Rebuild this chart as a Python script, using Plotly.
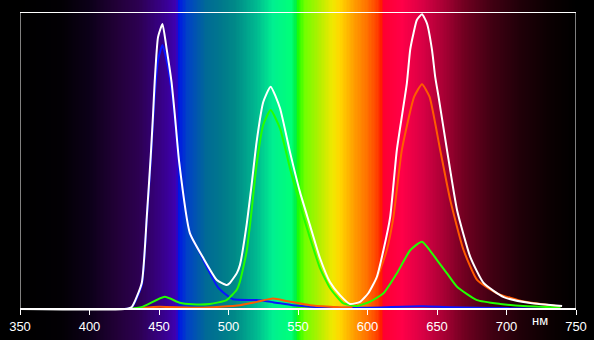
import plotly.graph_objects as go

# ---- data (wavelength nm, relative intensity 0..1) ----
white_wl = [350, 425.3, 430.4, 437.6, 441.2, 444.1, 445.7, 446.9, 449.3, 452.5, 455.4, 459.0, 461.4, 464.5,
            472.2, 481.5, 491.6, 498.8, 501.0, 506.0, 508.2, 513.0, 516.6, 520.2, 525.0, 530.3, 537.0,
            544.2, 551.4, 558.6, 565.8, 573.0, 580.2, 587.4, 594.6, 600.7, 606.7, 611.5, 616.3, 621.1,
            628.3, 630.7, 633.1, 635.5, 639.2, 642.8, 646.4, 648.7, 651.1, 657.2, 664.4, 674.0, 683.5,
            698.0, 717.2, 740.0]
white_val = [0, 0.0, 0.007, 0.088, 0.31, 0.519, 0.654, 0.766, 0.917, 0.961, 0.880, 0.766, 0.654, 0.496,
             0.256, 0.175, 0.098, 0.081, 0.088, 0.121, 0.148, 0.283, 0.418, 0.563, 0.698, 0.750, 0.678,
             0.530, 0.395, 0.283, 0.172, 0.091, 0.047, 0.017, 0.024, 0.054, 0.108, 0.199, 0.310, 0.536,
             0.761, 0.874, 0.930, 0.975, 0.994, 0.963, 0.874, 0.783, 0.716, 0.536, 0.334, 0.175, 0.088,
             0.040, 0.020, 0.010]

orange_wl = [430, 438.3, 450.5, 479.4, 508.2, 520.4, 532.0, 542.0, 558.6, 573.0, 587.4, 601.9, 609.1,
             613.9, 618.7, 624.7, 633.6, 639.2, 644.6, 652.3, 659.5, 669.1, 678.8, 693.2, 712.4, 738.8]
orange_val = [0, 0.004, 0.008, 0.004, 0.013, 0.024, 0.035, 0.027, 0.013, 0.008, 0.005, 0.054, 0.132,
              0.199, 0.311, 0.536, 0.716, 0.758, 0.716, 0.536, 0.368, 0.199, 0.098, 0.053, 0.025, 0.008]

green_wl = [428.9, 438.5, 454.1, 464.9, 474.3, 486.6, 498.6, 505.8, 508.2, 513.0, 516.6, 520.2, 525.0,
            530.3, 537.0, 544.2, 551.4, 558.6, 565.8, 573.0, 582.4, 592.3, 601.9, 611.5, 621.1, 630.7,
            639.2, 650.0, 657.2, 664.4, 678.8, 695.6, 712.2, 738.8]
green_val = [0, 0.008, 0.041, 0.021, 0.016, 0.017, 0.030, 0.064, 0.092, 0.193, 0.330, 0.486, 0.621,
             0.671, 0.610, 0.475, 0.351, 0.240, 0.138, 0.071, 0.020, 0.010, 0.025, 0.053, 0.120, 0.198,
             0.227, 0.165, 0.120, 0.075, 0.030, 0.017, 0.010, 0.005]

blue_wl = [425.3, 430.4, 437.6, 441.2, 444.1, 446.9, 449.3, 452.5, 455.4, 459.0, 461.4, 464.5, 472.2,
           479.4, 486.6, 492.3, 498.6, 503.2, 520.2, 532.0, 546.4, 558.6, 587.4, 610.0, 625.0, 640.0,
           660.0, 700.0, 738.8]
blue_val = [0, 0.005, 0.08, 0.30, 0.50, 0.72, 0.84, 0.89, 0.84, 0.74, 0.64, 0.49, 0.256, 0.189, 0.121,
            0.074, 0.047, 0.033, 0.030, 0.023, 0.013, 0.008, 0.004, 0.005, 0.008, 0.009, 0.006, 0.003, 0.001]

tick_vals = [350, 400, 450, 500, 550, 600, 650, 700, 750]
tick_text = ["350", "400", "450", "500", "550", "600", "650", "700", "750"]
unit_label = "нм"

# spectrum background colour stops (wavelength, colour)
spectrum_wl = [350, 380, 400, 420, 435, 450, 460, 462.8, 463.6, 470, 484, 495, 505, 520, 532, 545, 548.8,
               550.2, 555, 565, 575, 580, 590, 600, 607, 610.5, 611.5, 625, 640, 655, 670, 690, 710, 730, 750]
spectrum_col = ["#000000", "#020004", "#0c0018", "#220038", "#2c0050", "#360080", "#3c00a8", "#4000b4",
                "#0010e8", "#0040c8", "#006a96", "#00788c", "#008a88", "#00b890", "#00f090", "#00ff78",
                "#00f040", "#20ff00", "#70ff00", "#b0f000", "#f0e800", "#ffd800", "#ffa000", "#ff7000",
                "#ff4000", "#ff1800", "#ff0030", "#ff0048", "#d80044", "#a80034", "#700020", "#400012",
                "#200008", "#0c0002", "#000000"]

# ---- layout geometry ----
W, H = 594, 340
y_bottom_px, y_top_px = 309, 12.5
span = (y_bottom_px - y_top_px)
ymin = -(H - y_bottom_px) / span
ymax = ymin + H / span

colorscale = [[(w - 350) / 400, c] for w, c in zip(spectrum_wl, spectrum_col)]
bg_x = list(range(350, 751))

fig = go.Figure()
fig.add_trace(go.Heatmap(x=bg_x, y=[ymin, ymax], z=[bg_x, bg_x], colorscale=colorscale,
                         zmin=350, zmax=750, showscale=False, hoverinfo="skip"))

for wl, val, col in [(blue_wl, blue_val, "#0a14ff"), (orange_wl, orange_val, "#ff5a00"),
                     (green_wl, green_val, "#22ff00"), (white_wl, white_val, "#ffffff")]:
    fig.add_trace(go.Scatter(x=wl, y=val, mode="lines", line=dict(color=col, width=2, shape="spline",
                                                                   smoothing=0.5),
                             hoverinfo="skip", showlegend=False))

fig.add_shape(type="rect", xref="x", yref="y", x0=350, x1=750, y0=0, y1=1,
              line=dict(color="white", width=1), layer="above")

fig.add_annotation(x=724, y=-0.04, xref="x", yref="y", text=unit_label, showarrow=False,
                   font=dict(color="white", size=13, family="Liberation Sans, Arial"))

fig.update_layout(
    width=W, height=H,
    margin=dict(l=20, r=18, t=0, b=0),
    paper_bgcolor="black", plot_bgcolor="black",
    showlegend=False,
    xaxis=dict(range=[350, 750], tickvals=tick_vals, ticktext=tick_text, ticks="outside", ticklen=5,
               tickcolor="white", tickwidth=1, showline=True, linecolor="white", linewidth=2,
               showgrid=False, zeroline=False, anchor="free", position=(H - y_bottom_px) / H,
               tickfont=dict(color="white", size=13, family="Liberation Sans, Arial")),
    yaxis=dict(range=[ymin, ymax], showticklabels=False, showgrid=False, zeroline=False,
               showline=False, ticks=""),
)

fig.write_html("out.html", config={"displayModeBar": False, "staticPlot": True},
               post_script="document.body.style.margin='0';document.body.style.overflow='hidden';"
                           "document.body.style.background='black';")
